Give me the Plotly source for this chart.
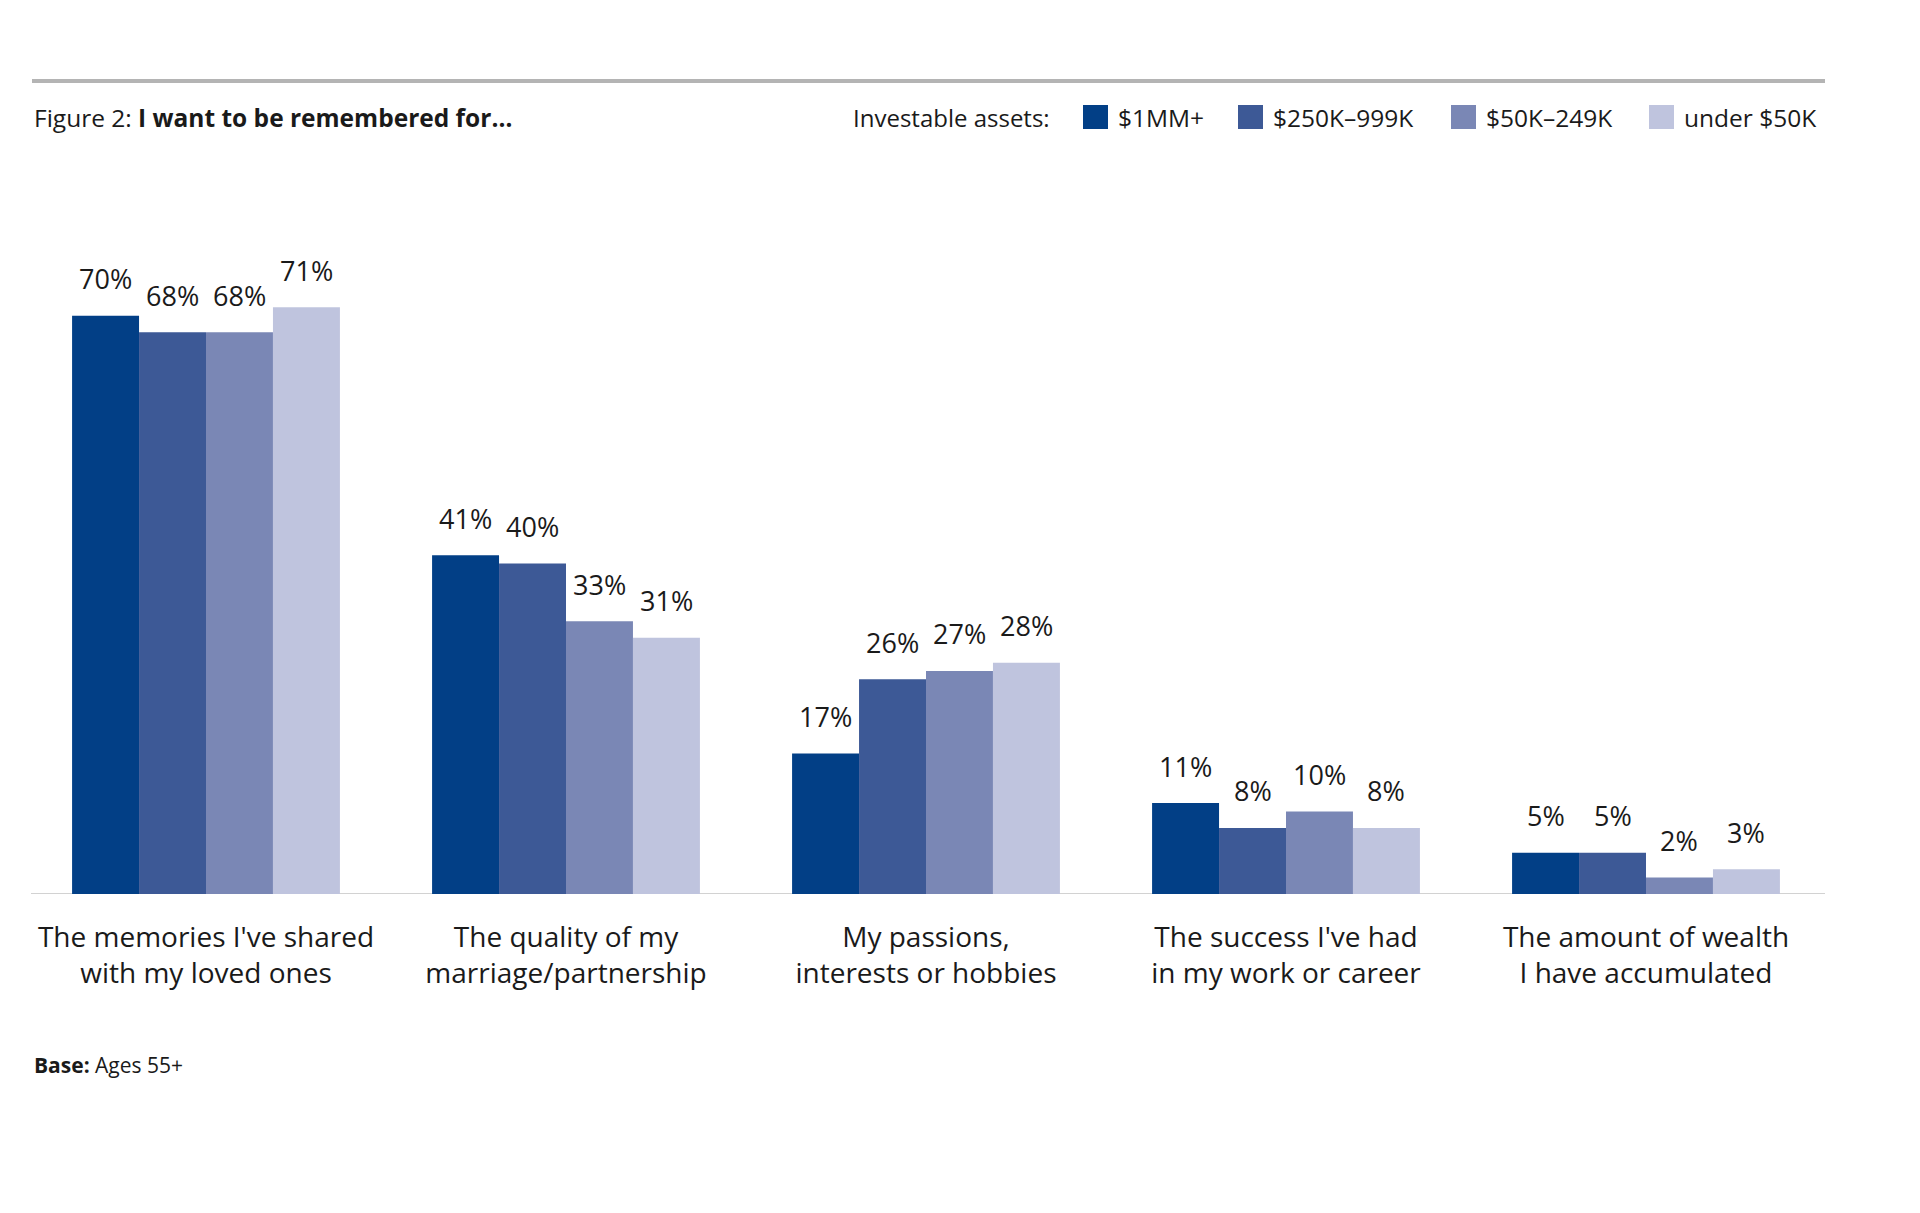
import plotly.graph_objects as go

# ---------------- data ----------------
categories = [
    "The memories I've shared<br>with my loved ones",
    "The quality of my<br>marriage/partnership",
    "My passions,<br>interests or hobbies",
    "The success I've had<br>in my work or career",
    "The amount of wealth<br>I have accumulated",
]
series_names = ["$1MM+", "$250K–999K", "$50K–249K", "under $50K"]
vals_1mm = [70, 41, 17, 11, 5]
vals_250k = [68, 40, 26, 8, 5]
vals_50k = [68, 33, 27, 10, 2]
vals_under50k = [71, 31, 28, 8, 3]
series_values = [vals_1mm, vals_250k, vals_50k, vals_under50k]
colors = ["#023f86", "#3d5996", "#7a87b5", "#bfc4de"]

title_plain = "Figure 2: "
title_bold = "I want to be remembered for…"
legend_title = "Investable assets:"
footnote_bold = "Base:"
footnote_plain = " Ages 55+"

# ---------------- layout constants ----------------
W, H = 1920, 1213
ML, MR, MT, MB = 26, 94, 233, 319
PW, PH = W - ML - MR, H - MT - MB
BARGAP = 0.256
FONT = "Open Sans"
TXT = "#1a1a1a"


def px_x(px):
    return (px - ML) / PW


def px_y(py):
    return (H - MB - py) / PH


fig = go.Figure()
for name, vals, col in zip(series_names, series_values, colors):
    fig.add_trace(go.Bar(
        x=categories, y=vals, name=name, marker=dict(color=col, line=dict(width=0)),
        showlegend=False, hoverinfo="x+y+name",
    ))

# value labels above bars
group_px = PW / len(categories)
bar_px = group_px * (1 - BARGAP) / len(series_names)
annotations = []
for i, vals in enumerate(series_values):
    off = (i - (len(series_names) - 1) / 2) * bar_px
    for cat, v in zip(categories, vals):
        annotations.append(dict(
            x=cat, y=v, xref="x", yref="y", text=f"{v}%", showarrow=False,
            xshift=off, yshift=37, yanchor="middle", xanchor="center",
            font=dict(family=FONT, size=27, color=TXT),
        ))

# title
annotations.append(dict(
    x=px_x(32), y=px_y(117), xref="paper", yref="paper", xanchor="left", yanchor="middle",
    text=f"{title_plain}<b>{title_bold}</b>", showarrow=False,
    font=dict(family=FONT, size=24.5, color=TXT),
))
# legend title
annotations.append(dict(
    x=px_x(851), y=px_y(117), xref="paper", yref="paper", xanchor="left", yanchor="middle",
    text=legend_title, showarrow=False, font=dict(family=FONT, size=24, color=TXT),
))
# manual legend
swatch_left = [1083, 1238, 1451, 1649]
shapes = []
for name, col, sx in zip(series_names, colors, swatch_left):
    shapes.append(dict(type="rect", xref="paper", yref="paper",
                       x0=px_x(sx), x1=px_x(sx + 25), y0=px_y(105), y1=px_y(129),
                       fillcolor=col, line=dict(width=0)))
    annotations.append(dict(
        x=px_x(sx + 33), y=px_y(117), xref="paper", yref="paper", xanchor="left", yanchor="middle",
        text=name, showarrow=False, font=dict(family=FONT, size=24.5, color=TXT),
    ))
# footnote
annotations.append(dict(
    x=px_x(32), y=px_y(1065), xref="paper", yref="paper", xanchor="left", yanchor="middle",
    text=f"<b>{footnote_bold}</b>{footnote_plain}", showarrow=False,
    font=dict(family=FONT, size=21, color=TXT),
))

# top rule
shapes.append(dict(type="line", xref="paper", yref="paper",
                   x0=px_x(32), x1=px_x(1825), y0=px_y(81), y1=px_y(81),
                   line=dict(color="#b4b4b4", width=4)))
# baseline
shapes.append(dict(type="line", xref="paper", yref="y",
                   x0=px_x(31), x1=px_x(1825), y0=0, y1=0,
                   line=dict(color="#d2d2d2", width=2), layer="below"))

fig.update_layout(
    width=W, height=H, autosize=False,
    margin=dict(l=ML, r=MR, t=MT, b=MB, pad=0),
    paper_bgcolor="white", plot_bgcolor="white",
    barmode="group", bargap=BARGAP, bargroupgap=0,
    font=dict(family=FONT, color=TXT),
    xaxis=dict(showgrid=False, zeroline=False, showline=False, ticks="",
               tickfont=dict(family=FONT, size=28, color=TXT), ticklabelstandoff=24,
               fixedrange=True),
    yaxis=dict(range=[0, 80], visible=False, showgrid=False, zeroline=False, fixedrange=True),
    annotations=annotations, shapes=shapes,
)

fig.write_html("out.html", config={"displayModeBar": False},
               post_script="document.body.style.margin='0';")
